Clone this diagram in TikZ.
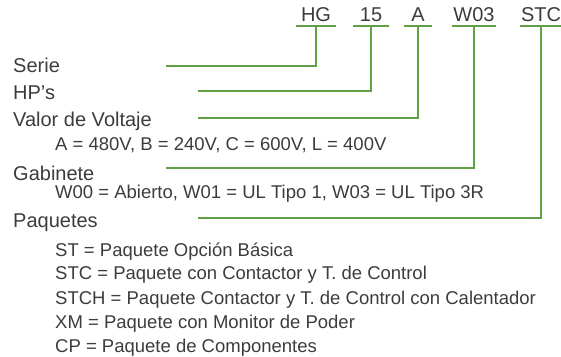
\documentclass[tikz,border=0pt]{standalone}
\usepackage{fontspec}
\setmainfont{Liberation Sans}
\usepackage{xcolor}
\usepackage{tikz}
\usetikzlibrary{positioning, calc}
\definecolor{leadgreen}{HTML}{62A046}
\definecolor{inkgray}{HTML}{3C3C3C}

\begin{document}
\begin{tikzpicture}[x=1pt, y=1pt,
    lead/.style={draw=leadgreen, line width=1.2pt},
    code/.style={text=inkgray, font=\fontsize{20}{24}\selectfont, inner sep=0pt, anchor=base},
    head/.style={text=inkgray, font=\fontsize{20}{24}\selectfont, inner sep=0pt, anchor=base west},
    item/.style={text=inkgray, font=\fontsize{18.5}{22}\selectfont, inner sep=0pt, anchor=base west}]
  \useasboundingbox (0,0) rectangle (561,-356);

  % model code
  \node[code, minimum width=40pt] (hg) at (316,-21) {HG};
  \node[code, minimum width=35pt] (hp) at (371,-21) {15};
  \node[code, minimum width=27pt] (volt) at (418,-21) {A};
  \node[code, minimum width=43pt] (gab) at (474,-21) {W03};
  \node[code, minimum width=42pt] (paq) at (541,-21) {STC};
  \foreach \c in {hg, hp, volt, gab, paq}
    \draw[lead] ([yshift=-5pt]\c.base west) -- ([yshift=-5pt]\c.base east);

  % headings and options
  \node[head] (serie) at (13,-72) {Serie};
  \node[head] (hps) at (13,-99) {HP's};
  \node[head] (valor) at (13,-126) {Valor de Voltaje};
  \node[item] (voltopt) at (55,-150) {A = 480V, B = 240V, C = 600V, L = 400V};
  \node[head] (gabinete) at (13,-180) {Gabinete};
  \node[item] (gabopt) at (55,-198) {W00 = Abierto, W01 = UL Tipo 1, W03 = UL Tipo 3R};
  \node[head] (paquetes) at (13,-227) {Paquetes};
  \node[item] (st) at (55,-256) {ST = Paquete Opción Básica};
  \node[item] (stc) at (55,-279) {STC = Paquete con Contactor y T. de Control};
  \node[item] (stch) at (55,-304) {STCH = Paquete Contactor y T. de Control con Calentador};
  \node[item] (xm) at (55,-328) {XM = Paquete con Monitor de Poder};
  \node[item] (cp) at (55,-352) {CP = Paquete de Componentes};

  % leader lines
  \coordinate (serieend) at (166,-66);
  \coordinate (hpsend) at (198,-91);
  \coordinate (valorend) at (198,-118);
  \coordinate (gabend) at (166,-168);
  \coordinate (paqend) at (198,-218);
  \draw[lead] (serieend) -| ([yshift=-5pt]hg.base);
  \draw[lead] (hpsend) -| ([yshift=-5pt]hp.base);
  \draw[lead] (valorend) -| ([yshift=-5pt]volt.base);
  \draw[lead] (gabend) -| ([yshift=-5pt]gab.base);
  \draw[lead] (paqend) -| ([yshift=-5pt]paq.base);
\end{tikzpicture}
\end{document}
